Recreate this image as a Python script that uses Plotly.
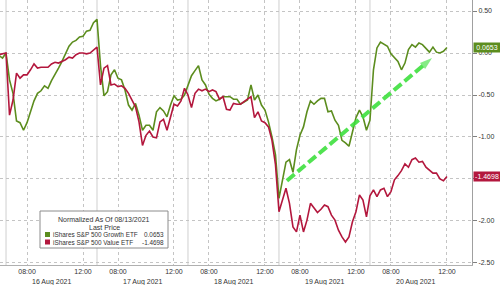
import plotly.graph_objects as go

# ---------------- data ----------------
SERIES_NAMES = ["iShares S&P 500 Growth ETF", "iShares S&P 500 Value ETF"]
DAYS = ["16 Aug 2021", "17 Aug 2021", "18 Aug 2021", "19 Aug 2021", "20 Aug 2021"]
SESSION_OPEN = "06:30"
SESSION_CLOSE = "13:00"
STEP_MIN = 15  # samples every 15 minutes, first sample 06:45

# last prints of 13 Aug (normalisation day) at 12:30, 12:45, 13:00
PRIOR_TIMES = ["12:30", "12:45", "13:00"]
GROWTH_PRIOR = [-0.03, -0.06, 0.00]
VALUE_PRIOR = [-0.02, -0.01, 0.00]

GROWTH_0816 = [-0.32, -0.48, -0.81, -0.83, -0.92, -0.83, -0.70, -0.57, -0.48, -0.45, -0.39, -0.42, -0.33,
               -0.26, -0.18, -0.10, 0.00, 0.08, 0.13, 0.15, 0.19, 0.20, 0.26, 0.27, 0.36, 0.40]
GROWTH_0817 = [-0.15, -0.51, -0.46, -0.26, -0.20, -0.30, -0.32, -0.44, -0.62, -0.68, -0.60, -0.74, -0.92,
               -0.86, -0.86, -0.92, -0.70, -0.65, -0.69, -0.76, -0.62, -0.51, -0.56, -0.55, -0.50, -0.39]
GROWTH_0818 = [-0.27, -0.21, -0.15, -0.32, -0.38, -0.49, -0.54, -0.57, -0.55, -0.52, -0.52, -0.52, -0.55,
               -0.55, -0.61, -0.58, -0.56, -0.38, -0.56, -0.50, -0.62, -0.68, -0.82, -1.00, -1.21, -1.73]
GROWTH_0819 = [-1.49, -1.30, -1.27, -1.42, -1.15, -0.98, -0.88, -0.70, -0.57, -0.61, -0.57, -0.54, -0.54,
               -0.70, -0.69, -0.80, -0.86, -1.04, -1.07, -1.11, -0.94, -0.77, -0.68, -0.76, -0.92, -0.80]
GROWTH_0820 = [-0.20, 0.06, 0.13, 0.10, 0.08, -0.01, -0.05, -0.10, -0.20, -0.12, 0.04, 0.10, 0.07,
               0.12, 0.10, 0.05, 0.01, 0.07, 0.01, 0.00, 0.02, 0.0653]

VALUE_0816 = [-0.74, -0.56, -0.24, -0.30, -0.26, -0.26, -0.20, -0.13, -0.18, -0.17, -0.17, -0.17, -0.13,
              -0.11, -0.12, -0.10, -0.08, -0.05, -0.06, -0.02, 0.00, 0.00, -0.01, 0.00, 0.04, 0.07]
VALUE_0817 = [-0.38, -0.18, -0.15, -0.38, -0.37, -0.40, -0.39, -0.42, -0.48, -0.56, -0.64, -0.82, -1.10,
              -0.98, -0.93, -1.00, -1.01, -0.82, -0.79, -0.92, -0.77, -0.61, -0.63, -0.57, -0.42, -0.50]
VALUE_0818 = [-0.65, -0.48, -0.43, -0.45, -0.43, -0.46, -0.44, -0.46, -0.55, -0.52, -0.67, -0.68, -0.60,
              -0.61, -0.61, -0.58, -0.56, -0.52, -0.77, -0.70, -0.81, -0.83, -0.88, -1.04, -1.33, -1.89]
VALUE_0819 = [-1.75, -1.61, -1.79, -2.07, -2.13, -1.93, -2.13, -1.99, -1.79, -1.85, -1.90, -1.86, -1.81,
              -1.83, -1.93, -1.99, -2.11, -2.19, -2.25, -2.19, -2.01, -1.89, -1.69, -1.75, -1.95, -1.70]
VALUE_0820 = [-1.63, -1.71, -1.63, -1.61, -1.71, -1.65, -1.51, -1.46, -1.40, -1.32, -1.36, -1.27, -1.25,
              -1.30, -1.29, -1.36, -1.40, -1.43, -1.43, -1.50, -1.52, -1.4698]

GROWTH_DAYS = [GROWTH_0816, GROWTH_0817, GROWTH_0818, GROWTH_0819, GROWTH_0820]
VALUE_DAYS = [VALUE_0816, VALUE_0817, VALUE_0818, VALUE_0819, VALUE_0820]

LAST_GROWTH = 0.0653
LAST_VALUE = -1.4698

# trend arrow drawn on the chart
ARROW_DAYS = [3, 4]
ARROW_TIMES = ["07:04", "10:56"]
ARROW_VALUES = [-1.52, -0.06]

X_TICK_TIMES = ["08:00", "12:00"]
Y_TICKS = [0.5, 0.0, -0.5, -1.0, -1.5, -2.0, -2.5]

# ---------------- helpers ----------------
def hours(t):
    h, m = t.split(":")
    return int(h) + int(m) / 60.0

OPEN_H = hours(SESSION_OPEN)
DAY_LEN = hours(SESSION_CLOSE) - OPEN_H


def xpos(day_idx, t):
    return day_idx * DAY_LEN + (hours(t) - OPEN_H)


def day_times(n):
    out = []
    for k in range(1, n + 1):
        mins = int(OPEN_H * 60) + k * STEP_MIN
        out.append(f"{mins // 60:02d}:{mins % 60:02d}")
    return out


def build(prior, days):
    xs = [xpos(-1, t) for t in PRIOR_TIMES]
    ys = list(prior)
    for d, vals in enumerate(days):
        xs += [xpos(d, t) for t in day_times(len(vals))]
        ys += vals
    return xs, ys


gx, gy = build(GROWTH_PRIOR, GROWTH_DAYS)
vx, vy = build(VALUE_PRIOR, VALUE_DAYS)

GREEN = "#5c8d1e"
RED = "#b3173d"
ARROW = "#3fe03f"
FONT = "Liberation Sans, Arial, sans-serif"
TXT = "#333333"

W, H = 500, 285
ML, MR, MT, MB = 0, 28, 0, 20
PW, PH = W - ML - MR, H - MT - MB


def px(x):
    return (x - ML) / PW


def py(y):
    return 1 - (y - MT) / PH


fig = go.Figure()
fig.add_trace(go.Scatter(x=gx, y=gy, mode="lines", line=dict(color=GREEN, width=1.6),
                         name=SERIES_NAMES[0], showlegend=False, hoverinfo="skip"))
fig.add_trace(go.Scatter(x=vx, y=vy, mode="lines", line=dict(color=RED, width=1.6),
                         name=SERIES_NAMES[1], showlegend=False, hoverinfo="skip"))

ax = [xpos(d, t) for d, t in zip(ARROW_DAYS, ARROW_TIMES)]
fig.add_trace(go.Scatter(x=ax, y=ARROW_VALUES, mode="lines+markers",
                         line=dict(color=ARROW, width=4, dash="10px,4px"),
                         marker=dict(symbol="arrow", size=[0, 13], color=ARROW, angleref="previous",
                                     line=dict(width=0)),
                         opacity=0.9, showlegend=False, hoverinfo="skip"))

shapes = []
# day separators (solid light grey)
for d in range(len(DAYS)):
    shapes.append(dict(type="line", xref="x", yref="paper", x0=d * DAY_LEN, x1=d * DAY_LEN, y0=0, y1=1,
                       line=dict(color="#cfcfcf", width=1), layer="below"))

# legend box
LX0, LX1, LY0, LY1 = 40, 168, 211, 248
shapes.append(dict(type="rect", xref="paper", yref="paper", x0=px(LX0), x1=px(LX1), y0=py(LY1), y1=py(LY0),
                   line=dict(color="#8c8c8c", width=1), fillcolor="white", layer="above"))
for i, c in enumerate([GREEN, RED]):
    yc = 234.5 + i * 7.5
    shapes.append(dict(type="rect", xref="paper", yref="paper", x0=px(45), x1=px(50), y0=py(yc + 2.5),
                       y1=py(yc - 2.5), line=dict(width=0), fillcolor=c, layer="above"))

ann = []
# date labels centered under each session
for d, lab in enumerate(DAYS):
    ann.append(dict(x=d * DAY_LEN + DAY_LEN / 2, xref="x", y=0, yref="paper", yshift=-17, text=lab,
                    showarrow=False, font=dict(family=FONT, size=7, color=TXT), yanchor="middle"))

# legend texts
ann.append(dict(x=px(104), y=py(219.5), xref="paper", yref="paper", text="Normalized As Of 08/13/2021",
                showarrow=False, font=dict(family=FONT, size=7, color=TXT), xanchor="center", yanchor="middle"))
ann.append(dict(x=px(104), y=py(227), xref="paper", yref="paper", text="Last Price",
                showarrow=False, font=dict(family=FONT, size=7, color=TXT), xanchor="center", yanchor="middle"))
for i, (nm, val) in enumerate(zip(SERIES_NAMES, [LAST_GROWTH, LAST_VALUE])):
    yc = 234.5 + i * 7.5
    ann.append(dict(x=px(51), y=py(yc), xref="paper", yref="paper", text=nm, showarrow=False,
                    font=dict(family=FONT, size=6.4, color=TXT), xanchor="left", yanchor="middle"))
    ann.append(dict(x=px(166), y=py(yc), xref="paper", yref="paper", text=f"{val:.4f}", showarrow=False,
                    font=dict(family=FONT, size=6.4, color=TXT), xanchor="right", yanchor="middle"))

# last-value tags at the right axis
for val, c in [(LAST_GROWTH, GREEN), (LAST_VALUE, RED)]:
    ann.append(dict(x=1, xref="paper", y=val, yref="y", text=f"{val:.4f}", showarrow=False,
                    xanchor="left", yanchor="middle", xshift=1, bgcolor=c, borderpad=1, width=24,
                    font=dict(family=FONT, size=7, color="white")))

xtv, xtt = [], []
for d in range(len(DAYS)):
    for t in X_TICK_TIMES:
        xtv.append(xpos(d, t))
        xtt.append(t)

fig.update_layout(
    width=W, height=H, margin=dict(l=ML, r=MR, t=MT, b=MB),
    paper_bgcolor="white", plot_bgcolor="white",
    showlegend=False, shapes=shapes, annotations=ann,
    font=dict(family=FONT, size=7, color=TXT),
    xaxis=dict(range=[-0.43, 33.29], tickmode="array", tickvals=xtv, ticktext=xtt,
               showgrid=True, gridcolor="#c4c4c4", griddash="dot", gridwidth=1,
               showline=True, linecolor="#b0b0b0", linewidth=1, ticks="", zeroline=False,
               tickfont=dict(family=FONT, size=7, color=TXT), fixedrange=True),
    yaxis=dict(range=[-2.524, 0.631], side="right", tickmode="array", tickvals=Y_TICKS,
               ticktext=[f"{v:.2f}" for v in Y_TICKS],
               showgrid=True, gridcolor="#c4c4c4", griddash="dot", gridwidth=1, zeroline=False,
               showline=True, linecolor="#a0a0a0", linewidth=1, ticks="outside", ticklen=4,
               tickcolor="#808080", tickfont=dict(family=FONT, size=7, color=TXT), fixedrange=True),
)

fig.write_html("out.html")
